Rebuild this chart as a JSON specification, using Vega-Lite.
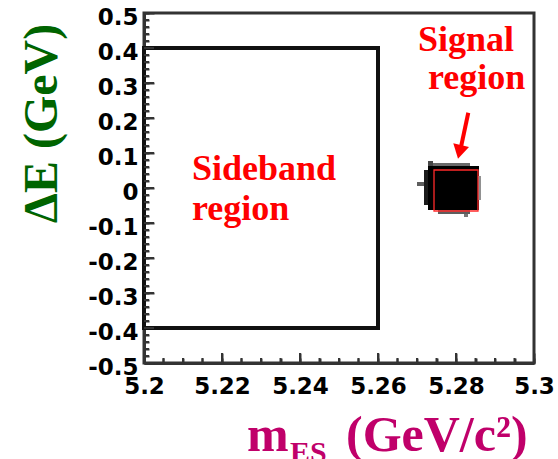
{
  "$schema": "https://vega.github.io/schema/vega-lite/v6.json",
  "width": 390,
  "height": 350,
  "autosize": {"type": "none"},
  "padding": {"left": 144, "top": 13, "right": 24, "bottom": 96},
  "background": "white",
  "config": {
    "view": {"stroke": "#333333", "strokeWidth": 3},
    "axis": {"grid": false, "domainColor": "#333333", "domainWidth": 3, "tickColor": "#333333", "tickWidth": 2, "labelColor": "black"}
  },
  "resolve": {"scale": {"x": "independent", "y": "independent"}, "axis": {"x": "independent", "y": "independent"}},
  "datasets": {
    "xticks": [
      {"v": 5.2, "lo": -0.5, "hi": -0.47143}, {"v": 5.22, "lo": -0.5, "hi": -0.47143}, {"v": 5.24, "lo": -0.5, "hi": -0.47143},
      {"v": 5.26, "lo": -0.5, "hi": -0.47143}, {"v": 5.28, "lo": -0.5, "hi": -0.47143}, {"v": 5.3, "lo": -0.5, "hi": -0.47143},
      {"v": 5.205, "lo": -0.5, "hi": -0.48571}, {"v": 5.21, "lo": -0.5, "hi": -0.48571}, {"v": 5.215, "lo": -0.5, "hi": -0.48571},
      {"v": 5.225, "lo": -0.5, "hi": -0.48571}, {"v": 5.23, "lo": -0.5, "hi": -0.48571}, {"v": 5.235, "lo": -0.5, "hi": -0.48571},
      {"v": 5.245, "lo": -0.5, "hi": -0.48571}, {"v": 5.25, "lo": -0.5, "hi": -0.48571}, {"v": 5.255, "lo": -0.5, "hi": -0.48571},
      {"v": 5.265, "lo": -0.5, "hi": -0.48571}, {"v": 5.27, "lo": -0.5, "hi": -0.48571}, {"v": 5.275, "lo": -0.5, "hi": -0.48571},
      {"v": 5.285, "lo": -0.5, "hi": -0.48571}, {"v": 5.29, "lo": -0.5, "hi": -0.48571}, {"v": 5.295, "lo": -0.5, "hi": -0.48571}
    ],
    "yticks": [
      {"v": -0.5, "lo": 5.2, "hi": 5.20256}, {"v": -0.4, "lo": 5.2, "hi": 5.20256}, {"v": -0.3, "lo": 5.2, "hi": 5.20256},
      {"v": -0.2, "lo": 5.2, "hi": 5.20256}, {"v": -0.1, "lo": 5.2, "hi": 5.20256}, {"v": 0, "lo": 5.2, "hi": 5.20256},
      {"v": 0.1, "lo": 5.2, "hi": 5.20256}, {"v": 0.2, "lo": 5.2, "hi": 5.20256}, {"v": 0.3, "lo": 5.2, "hi": 5.20256},
      {"v": 0.4, "lo": 5.2, "hi": 5.20256}, {"v": 0.5, "lo": 5.2, "hi": 5.20256},
      {"v": -0.48, "lo": 5.2, "hi": 5.20128}, {"v": -0.46, "lo": 5.2, "hi": 5.20128}, {"v": -0.44, "lo": 5.2, "hi": 5.20128}, {"v": -0.42, "lo": 5.2, "hi": 5.20128},
      {"v": -0.38, "lo": 5.2, "hi": 5.20128}, {"v": -0.36, "lo": 5.2, "hi": 5.20128}, {"v": -0.34, "lo": 5.2, "hi": 5.20128}, {"v": -0.32, "lo": 5.2, "hi": 5.20128},
      {"v": -0.28, "lo": 5.2, "hi": 5.20128}, {"v": -0.26, "lo": 5.2, "hi": 5.20128}, {"v": -0.24, "lo": 5.2, "hi": 5.20128}, {"v": -0.22, "lo": 5.2, "hi": 5.20128},
      {"v": -0.18, "lo": 5.2, "hi": 5.20128}, {"v": -0.16, "lo": 5.2, "hi": 5.20128}, {"v": -0.14, "lo": 5.2, "hi": 5.20128}, {"v": -0.12, "lo": 5.2, "hi": 5.20128},
      {"v": -0.08, "lo": 5.2, "hi": 5.20128}, {"v": -0.06, "lo": 5.2, "hi": 5.20128}, {"v": -0.04, "lo": 5.2, "hi": 5.20128}, {"v": -0.02, "lo": 5.2, "hi": 5.20128},
      {"v": 0.02, "lo": 5.2, "hi": 5.20128}, {"v": 0.04, "lo": 5.2, "hi": 5.20128}, {"v": 0.06, "lo": 5.2, "hi": 5.20128}, {"v": 0.08, "lo": 5.2, "hi": 5.20128},
      {"v": 0.12, "lo": 5.2, "hi": 5.20128}, {"v": 0.14, "lo": 5.2, "hi": 5.20128}, {"v": 0.16, "lo": 5.2, "hi": 5.20128}, {"v": 0.18, "lo": 5.2, "hi": 5.20128},
      {"v": 0.22, "lo": 5.2, "hi": 5.20128}, {"v": 0.24, "lo": 5.2, "hi": 5.20128}, {"v": 0.26, "lo": 5.2, "hi": 5.20128}, {"v": 0.28, "lo": 5.2, "hi": 5.20128},
      {"v": 0.32, "lo": 5.2, "hi": 5.20128}, {"v": 0.34, "lo": 5.2, "hi": 5.20128}, {"v": 0.36, "lo": 5.2, "hi": 5.20128}, {"v": 0.38, "lo": 5.2, "hi": 5.20128},
      {"v": 0.42, "lo": 5.2, "hi": 5.20128}, {"v": 0.44, "lo": 5.2, "hi": 5.20128}, {"v": 0.46, "lo": 5.2, "hi": 5.20128}, {"v": 0.48, "lo": 5.2, "hi": 5.20128}
    ]
  },
  "layer": [
    {
      "data": {"values": [{"x": 5.2, "x2": 5.26, "y": -0.4, "y2": 0.4}]},
      "mark": {"type": "rect", "fill": null, "fillOpacity": 0, "stroke": "#111111", "strokeWidth": 4},
      "encoding": {
        "x": {"field": "x", "type": "quantitative", "scale": {"domain": [5.2, 5.3], "nice": false, "zero": false},
          "axis": {"orient": "bottom", "title": null, "ticks": false, "domain": true, "values": [5.2, 5.22, 5.24, 5.26, 5.28, 5.3], "format": ".2~f",
            "labelFont": "DejaVu Sans", "labelFontWeight": "bold", "labelFontSize": 23, "labelPadding": 12, "labelFlush": false, "labelOverlap": false, "labelBound": false}},
        "x2": {"field": "x2"},
        "y": {"field": "y", "type": "quantitative", "scale": {"domain": [-0.5, 0.5], "nice": false, "zero": false},
          "axis": {"orient": "left", "ticks": false, "domain": true, "values": [-0.5, -0.4, -0.3, -0.2, -0.1, 0, 0.1, 0.2, 0.3, 0.4, 0.5], "format": ".1~f",
            "labelExpr": "replace(datum.label, '\u2212', '-')",
            "labelFont": "DejaVu Sans", "labelFontWeight": "bold", "labelFontSize": 23, "labelPadding": 6, "labelOffset": 4, "labelBaseline": "middle", "labelFlush": false, "labelOverlap": false, "labelBound": false,
            "title": "\u0394E (GeV)", "titleFont": "Liberation Serif", "titleFontSize": 48, "titleFontWeight": "bold", "titleColor": "#006400",
            "titleAngle": -90, "titleX": -88, "titleY": 110, "titleAlign": "center", "titleBaseline": "alphabetic"}},
        "y2": {"field": "y2"}
      }
    },
    {
      "data": {"values": [{"x": 5.27282, "x2": 5.2859, "y": -0.0629, "y2": 0.0629}]},
      "mark": {"type": "rect", "fill": "black"},
      "encoding": {
        "x": {"field": "x", "type": "quantitative", "scale": {"domain": [5.2, 5.3], "nice": false, "zero": false},
          "axis": {"orient": "bottom", "title": null, "labels": false, "domain": false, "ticks": true, "tickSize": 10, "offset": -10, "values": [5.2, 5.22, 5.24, 5.26, 5.28, 5.3]}},
        "x2": {"field": "x2"},
        "y": {"field": "y", "type": "quantitative", "scale": {"domain": [-0.5, 0.5], "nice": false, "zero": false},
          "axis": {"orient": "left", "title": null, "labels": false, "domain": false, "ticks": true, "tickSize": 10, "offset": -10, "values": [-0.5, -0.4, -0.3, -0.2, -0.1, 0, 0.1, 0.2, 0.3, 0.4, 0.5]}},
        "y2": {"field": "y2"}
      }
    },
    {
      "data": {"values": [
        {"x": 5.27179, "x2": 5.27282, "y": -0.0486, "y2": 0.0514, "d": 0.9},
        {"x": 5.27, "x2": 5.27179, "y": 0.0057, "y2": 0.0171, "d": 0.6},
        {"x": 5.2741, "x2": 5.28359, "y": 0.0629, "y2": 0.0714, "d": 0.55},
        {"x": 5.27538, "x2": 5.28359, "y": -0.0743, "y2": -0.0629, "d": 0.6},
        {"x": 5.28564, "x2": 5.28641, "y": -0.0343, "y2": 0.0343, "d": 0.4},
        {"x": 5.27282, "x2": 5.2741, "y": 0.0629, "y2": 0.0771, "d": 0.7},
        {"x": 5.28205, "x2": 5.28308, "y": -0.0829, "y2": -0.0743, "d": 0.5}
      ]},
      "mark": {"type": "rect"},
      "encoding": {
        "x": {"field": "x", "type": "quantitative", "scale": {"domain": [5.2, 5.3], "nice": false, "zero": false}, "axis": null},
        "x2": {"field": "x2"},
        "y": {"field": "y", "type": "quantitative", "scale": {"domain": [-0.5, 0.5], "nice": false, "zero": false}, "axis": null},
        "y2": {"field": "y2"},
        "color": {"field": "d", "type": "quantitative", "scale": {"domain": [0, 1], "range": ["#ffffff", "#000000"]}, "legend": null}
      }
    },
    {
      "data": {"values": [{"x": 5.27436, "x2": 5.28564, "y": -0.0657, "y2": 0.0514}]},
      "mark": {"type": "rect", "fill": null, "fillOpacity": 0, "stroke": "#ff2a2a", "strokeWidth": 1.3},
      "encoding": {
        "x": {"field": "x", "type": "quantitative", "scale": {"domain": [5.2, 5.3], "nice": false, "zero": false},
          "axis": {"orient": "bottom", "title": null, "labels": false, "domain": false, "ticks": true, "tickSize": 5, "offset": -5,
            "values": [5.2, 5.205, 5.21, 5.215, 5.22, 5.225, 5.23, 5.235, 5.24, 5.245, 5.25, 5.255, 5.26, 5.265, 5.27, 5.275, 5.28, 5.285, 5.29, 5.295, 5.3]}},
        "x2": {"field": "x2"},
        "y": {"field": "y", "type": "quantitative", "scale": {"domain": [-0.5, 0.5], "nice": false, "zero": false},
          "axis": {"orient": "left", "title": null, "labels": false, "domain": false, "ticks": true, "tickSize": 5, "offset": -5,
            "values": [-0.5, -0.48, -0.46, -0.44, -0.42, -0.4, -0.38, -0.36, -0.34, -0.32, -0.3, -0.28, -0.26, -0.24, -0.22, -0.2, -0.18, -0.16, -0.14, -0.12, -0.1, -0.08, -0.06, -0.04, -0.02, 0, 0.02, 0.04, 0.06, 0.08, 0.1, 0.12, 0.14, 0.16, 0.18, 0.2, 0.22, 0.24, 0.26, 0.28, 0.3, 0.32, 0.34, 0.36, 0.38, 0.4, 0.42, 0.44, 0.46, 0.48, 0.5]}},
        "y2": {"field": "y2"}
      }
    },
    {
      "data": {"values": [{"x": 5.28315, "y": 0.2151, "x2": 5.28128, "y2": 0.1171}]},
      "mark": {"type": "rule", "stroke": "#ff0000", "strokeWidth": 4},
      "encoding": {
        "x": {"field": "x", "type": "quantitative", "scale": {"domain": [5.2, 5.3], "nice": false, "zero": false}, "axis": null},
        "x2": {"field": "x2"},
        "y": {"field": "y", "type": "quantitative", "scale": {"domain": [-0.5, 0.5], "nice": false, "zero": false}, "axis": null},
        "y2": {"field": "y2"}
      }
    },
    {
      "data": {"values": [{"x": 5.28092, "y": 0.1029}]},
      "mark": {"type": "point", "shape": "triangle-down", "filled": true, "fill": "#ff0000", "opacity": 1, "size": 260, "angle": 13, "strokeWidth": 0},
      "encoding": {
        "x": {"field": "x", "type": "quantitative", "scale": {"domain": [5.2, 5.3], "nice": false, "zero": false}, "axis": null},
        "y": {"field": "y", "type": "quantitative", "scale": {"domain": [-0.5, 0.5], "nice": false, "zero": false}, "axis": null}
      }
    },
    {
      "data": {"values": [
        {"t": "Signal", "x": 5.27026, "y": 0.3914},
        {"t": "region", "x": 5.27282, "y": 0.2829},
        {"t": "Sideband", "x": 5.2123, "y": 0.0229},
        {"t": "region", "x": 5.2123, "y": -0.0914}
      ]},
      "mark": {"type": "text", "font": "Liberation Serif", "fontWeight": "bold", "fontSize": 36, "fill": "#ff0000", "align": "left", "baseline": "alphabetic"},
      "encoding": {
        "x": {"field": "x", "type": "quantitative", "scale": {"domain": [5.2, 5.3], "nice": false, "zero": false}, "axis": null},
        "y": {"field": "y", "type": "quantitative", "scale": {"domain": [-0.5, 0.5], "nice": false, "zero": false}, "axis": null},
        "text": {"field": "t"}
      }
    },
    {
      "data": {"values": [
        {"t": "m", "x": 5.22641, "y": -0.7514},
        {"t": "(GeV/c\u00b2)", "x": 5.2518, "y": -0.7514}
      ]},
      "mark": {"type": "text", "font": "Liberation Serif", "fontWeight": "bold", "fontSize": 50, "fill": "#c0006a", "align": "left", "baseline": "alphabetic", "clip": false},
      "encoding": {
        "x": {"field": "x", "type": "quantitative", "scale": {"domain": [5.2, 5.3], "nice": false, "zero": false}, "axis": null},
        "y": {"field": "y", "type": "quantitative", "scale": {"domain": [-0.5, 0.5], "nice": false, "zero": false}, "axis": null},
        "text": {"field": "t"}
      }
    },
    {
      "data": {"values": [{"t": "ES", "x": 5.23744, "y": -0.7829}]},
      "mark": {"type": "text", "font": "Liberation Serif", "fontWeight": "bold", "fontSize": 30, "fill": "#c0006a", "align": "left", "baseline": "alphabetic", "clip": false},
      "encoding": {
        "x": {"field": "x", "type": "quantitative", "scale": {"domain": [5.2, 5.3], "nice": false, "zero": false}, "axis": null},
        "y": {"field": "y", "type": "quantitative", "scale": {"domain": [-0.5, 0.5], "nice": false, "zero": false}, "axis": null},
        "text": {"field": "t"}
      }
    },
    {
      "data": {"name": "xticks"},
      "mark": {"type": "rule", "stroke": "#333333", "strokeWidth": 2},
      "encoding": {
        "x": {"field": "v", "type": "quantitative", "scale": {"domain": [5.2, 5.3], "nice": false, "zero": false}, "axis": null},
        "y": {"field": "lo", "type": "quantitative", "scale": {"domain": [-0.5, 0.5], "nice": false, "zero": false}, "axis": null},
        "y2": {"field": "hi"}
      }
    },
    {
      "data": {"name": "yticks"},
      "mark": {"type": "rule", "stroke": "#333333", "strokeWidth": 2},
      "encoding": {
        "y": {"field": "v", "type": "quantitative", "scale": {"domain": [-0.5, 0.5], "nice": false, "zero": false}, "axis": null},
        "x": {"field": "lo", "type": "quantitative", "scale": {"domain": [5.2, 5.3], "nice": false, "zero": false}, "axis": null},
        "x2": {"field": "hi"}
      }
    }
  ]
}
